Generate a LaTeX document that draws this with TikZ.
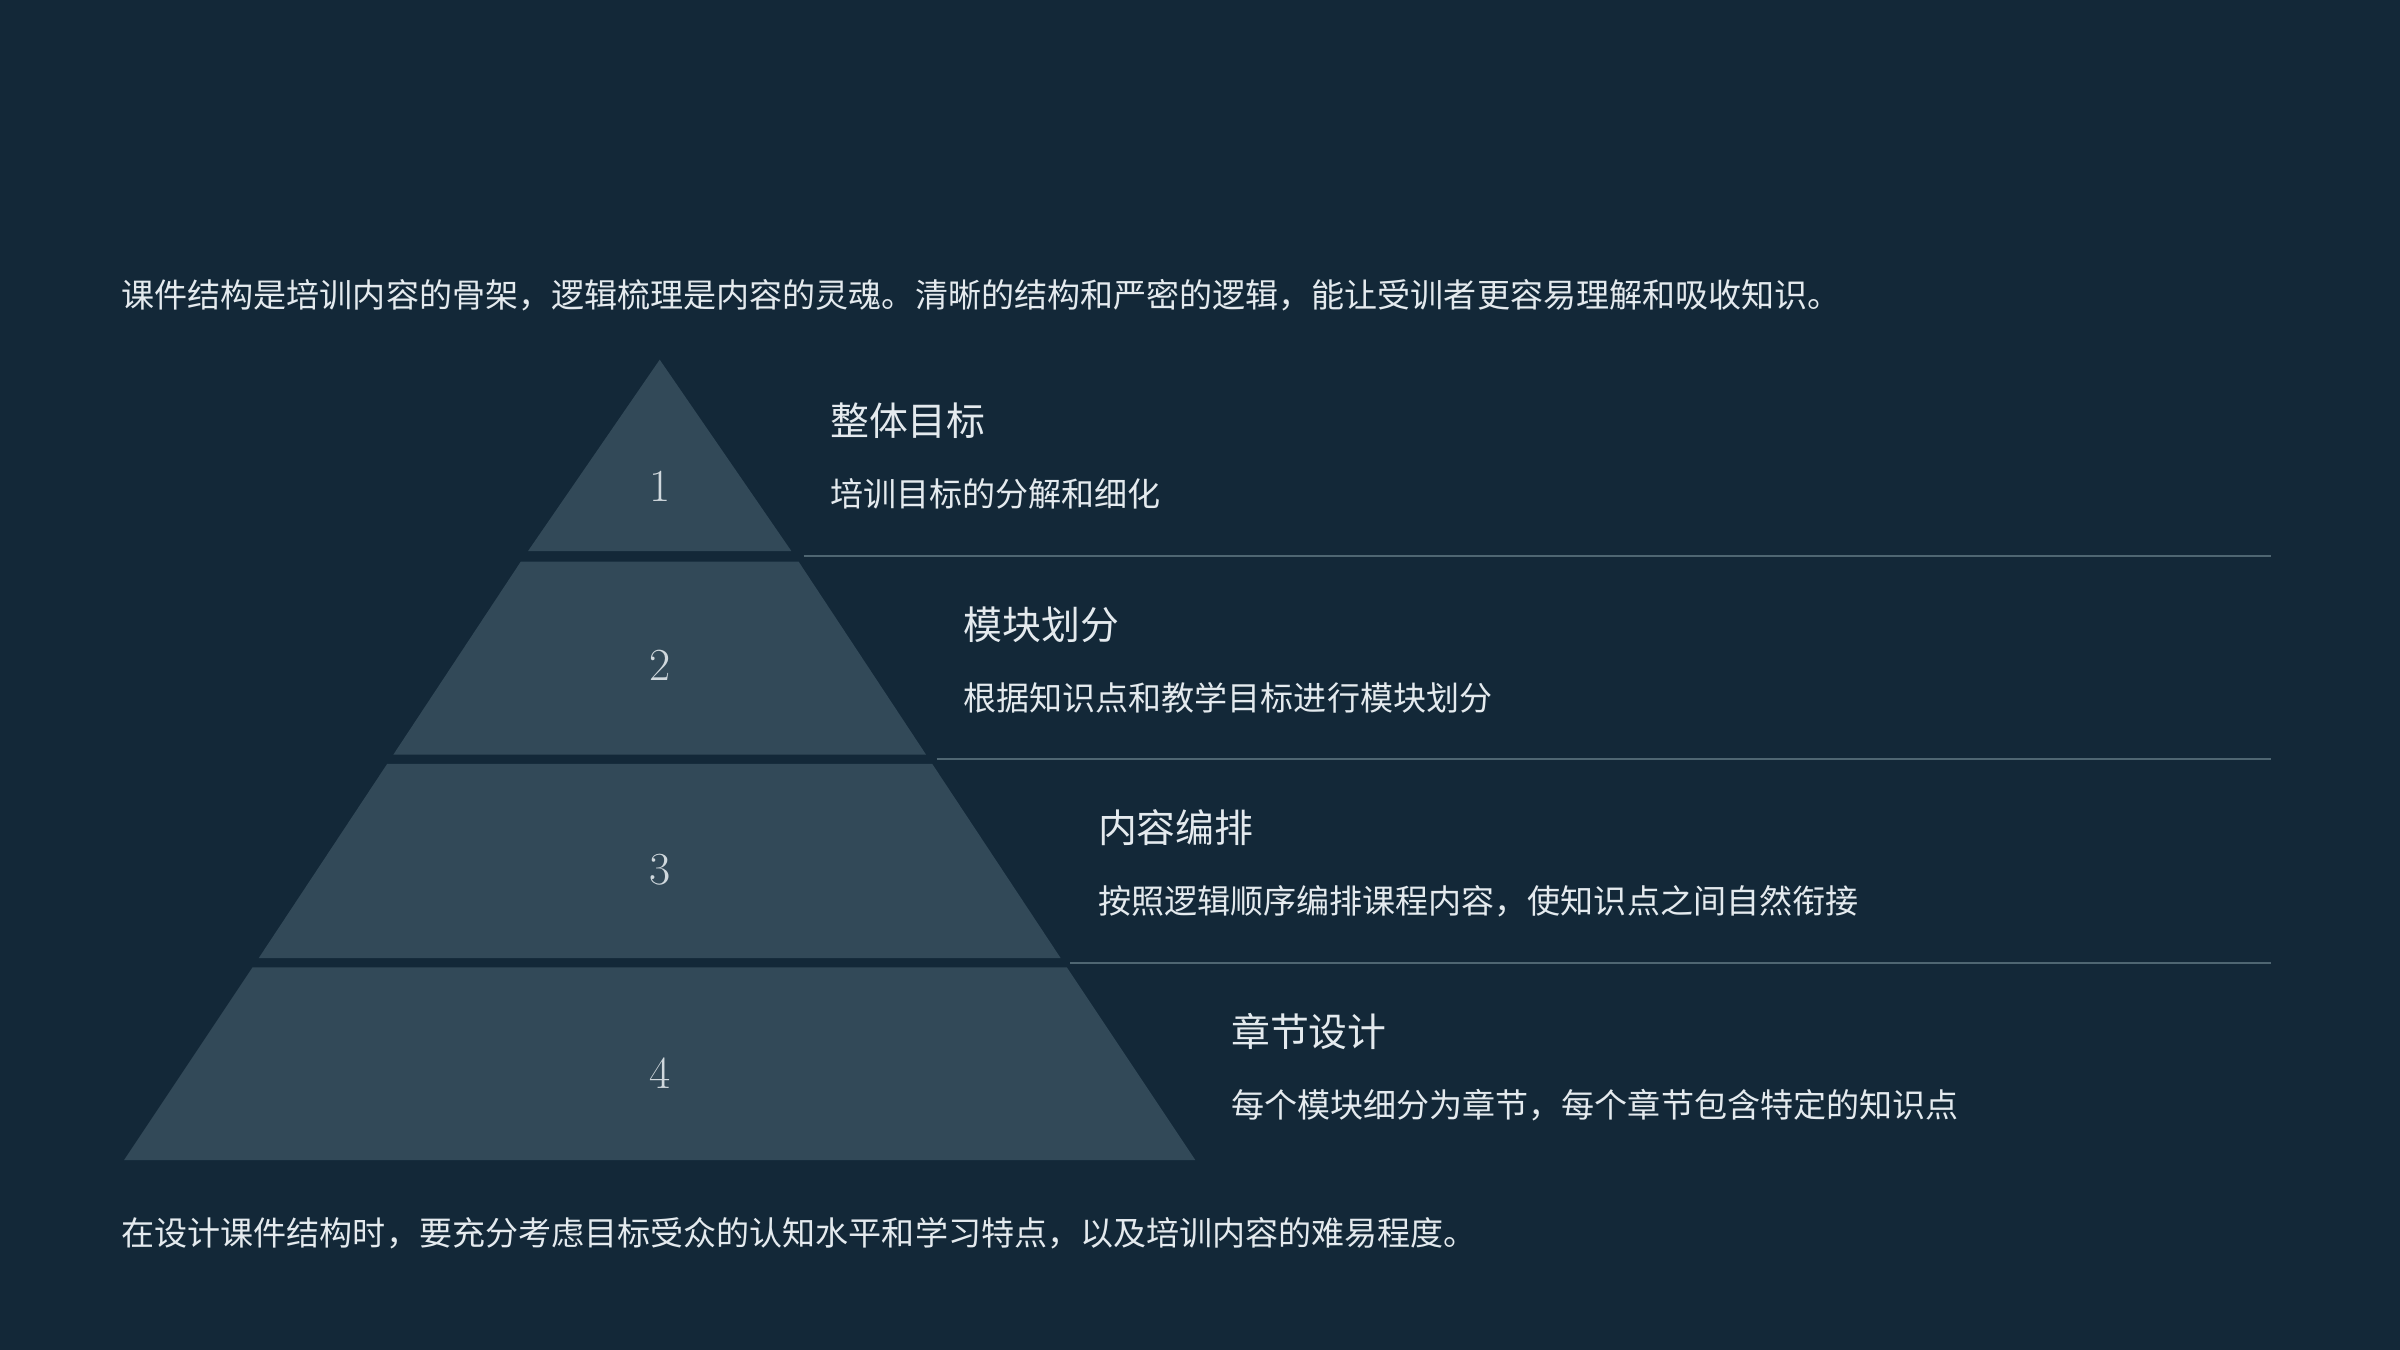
\documentclass[tikz,border=0pt]{standalone}
\usepackage{fontspec}
\newfontfamily\cjk{Noto Sans CJK SC}
\begin{document}
\begin{tikzpicture}[x=0.5pt,y=-0.5pt,
  band/.style={fill=bandc,draw=none},
  sep/.style={draw=linec,line width=0.6pt},
  num/.style={text=numc,font=\fontsize{15}{15}\selectfont,inner sep=0pt},
  ttl/.style={text=txtc,font=\cjk\fontsize{12.7}{14}\selectfont,anchor=west,inner sep=0pt},
  body/.style={text=txtc,font=\cjk\fontsize{10.8}{12}\selectfont,anchor=west,inner sep=0pt}]
\definecolor{bgc}{HTML}{132838}
\definecolor{bandc}{HTML}{324958}
\definecolor{linec}{HTML}{4F6672}
\definecolor{txtc}{HTML}{E4EAEE}
\definecolor{numc}{HTML}{D0D8DD}
\fill[bgc] (0,0) rectangle (1568,882);
\useasboundingbox (0,0) rectangle (1568,882);
% pyramid bands
\fill[band] (431,235) -- (517,360) -- (345,360) -- cycle;
\fill[band] (345-4.8,367) -- (517+4.8,367) -- (605,493) -- (257,493) -- cycle;
\fill[band] (253,499) -- (609,499) -- (693,626) -- (169,626) -- cycle;
\fill[band] (165,632) -- (697,632) -- (781,758) -- (81,758) -- cycle;
% separator lines
\coordinate (l1a) at (525,363); \coordinate (l1b) at (1484,363);
\coordinate (l2a) at (612,496); \coordinate (l2b) at (1484,496);
\coordinate (l3a) at (699,629); \coordinate (l3b) at (1484,629);
\draw[sep] (l1a) -- (l1b);
\draw[sep] (l2a) -- (l2b);
\draw[sep] (l3a) -- (l3b);
% numbers
\node[num] (n1) at (431,318) {1};
\node[num] (n2) at (431,435) {2};
\node[num] (n3) at (431,568) {3};
\node[num] (n4) at (431,701) {4};
% texts
\node[body] (intro) at (79,193) {课件结构是培训内容的骨架，逻辑梳理是内容的灵魂。清晰的结构和严密的逻辑，能让受训者更容易理解和吸收知识。};
\node[ttl] (t1) at (542,275) {整体目标};
\node[body] (s1) at (542,323) {培训目标的分解和细化};
\node[ttl] (t2) at (629,408) {模块划分};
\node[body] (s2) at (629,456) {根据知识点和教学目标进行模块划分};
\node[ttl] (t3) at (717,541) {内容编排};
\node[body] (s3) at (717,589) {按照逻辑顺序编排课程内容，使知识点之间自然衔接};
\node[ttl] (t4) at (804,674) {章节设计};
\node[body] (s4) at (804,722) {每个模块细分为章节，每个章节包含特定的知识点};
\node[body] (outro) at (79,806) {在设计课件结构时，要充分考虑目标受众的认知水平和学习特点，以及培训内容的难易程度。};
\end{tikzpicture}
\end{document}
